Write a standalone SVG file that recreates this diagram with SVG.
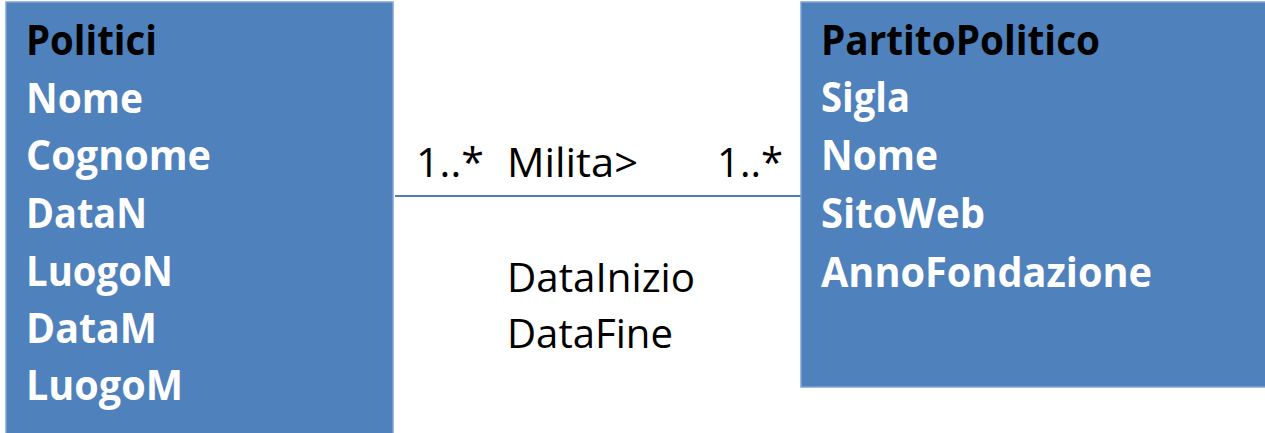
<svg xmlns="http://www.w3.org/2000/svg" width="1265" height="433" viewBox="0 0 1265 433">
<style>
.box{fill:#4F81BD;stroke:#7FA2D3;stroke-width:1.5}
.t{font-family:"Open Sans","Liberation Sans",sans-serif;font-size:41px}
.b{font-weight:bold}
.w{fill:#FFFFFF}
.k{fill:#000000}
.conn{stroke:#4A7EBB;stroke-width:2;fill:none}
</style>
<rect width="1265" height="433" fill="#FFFFFF"/>
<g id="connectors">
<line class="conn" x1="395" y1="196" x2="801" y2="196"/>
<text class="t k" x="416" y="177" textLength="68" lengthAdjust="spacingAndGlyphs">1..*</text>
<text class="t k" x="507" y="177" textLength="131" lengthAdjust="spacingAndGlyphs">Milita&gt;</text>
<text class="t k" x="717" y="177" textLength="66" lengthAdjust="spacingAndGlyphs">1..*</text>
<text class="t k" x="507" y="292" textLength="188" lengthAdjust="spacingAndGlyphs">DataInizio</text>
<text class="t k" x="507" y="348" textLength="166" lengthAdjust="spacingAndGlyphs">DataFine</text>
</g>
<g id="Politici">
<rect class="box" x="6" y="2" width="387" height="440"/>
<text class="t b k" x="26" y="55" textLength="131" lengthAdjust="spacingAndGlyphs">Politici</text>
<text class="t b w" x="26" y="113" textLength="117" lengthAdjust="spacingAndGlyphs">Nome</text>
<text class="t b w" x="26" y="170" textLength="185" lengthAdjust="spacingAndGlyphs">Cognome</text>
<text class="t b w" x="26" y="228" textLength="121" lengthAdjust="spacingAndGlyphs">DataN</text>
<text class="t b w" x="26" y="286" textLength="147" lengthAdjust="spacingAndGlyphs">LuogoN</text>
<text class="t b w" x="26" y="343" textLength="131" lengthAdjust="spacingAndGlyphs">DataM</text>
<text class="t b w" x="26" y="400" textLength="157" lengthAdjust="spacingAndGlyphs">LuogoM</text>
</g>
<g id="PartitoPolitico">
<rect class="box" x="801" y="2" width="466" height="385"/>
<text class="t b k" x="821" y="55" textLength="279" lengthAdjust="spacingAndGlyphs">PartitoPolitico</text>
<text class="t b w" x="821" y="112" textLength="89" lengthAdjust="spacingAndGlyphs">Sigla</text>
<text class="t b w" x="821" y="170" textLength="117" lengthAdjust="spacingAndGlyphs">Nome</text>
<text class="t b w" x="821" y="228" textLength="164" lengthAdjust="spacingAndGlyphs">SitoWeb</text>
<text class="t b w" x="821" y="287" textLength="331" lengthAdjust="spacingAndGlyphs">AnnoFondazione</text>
</g>
</svg>
